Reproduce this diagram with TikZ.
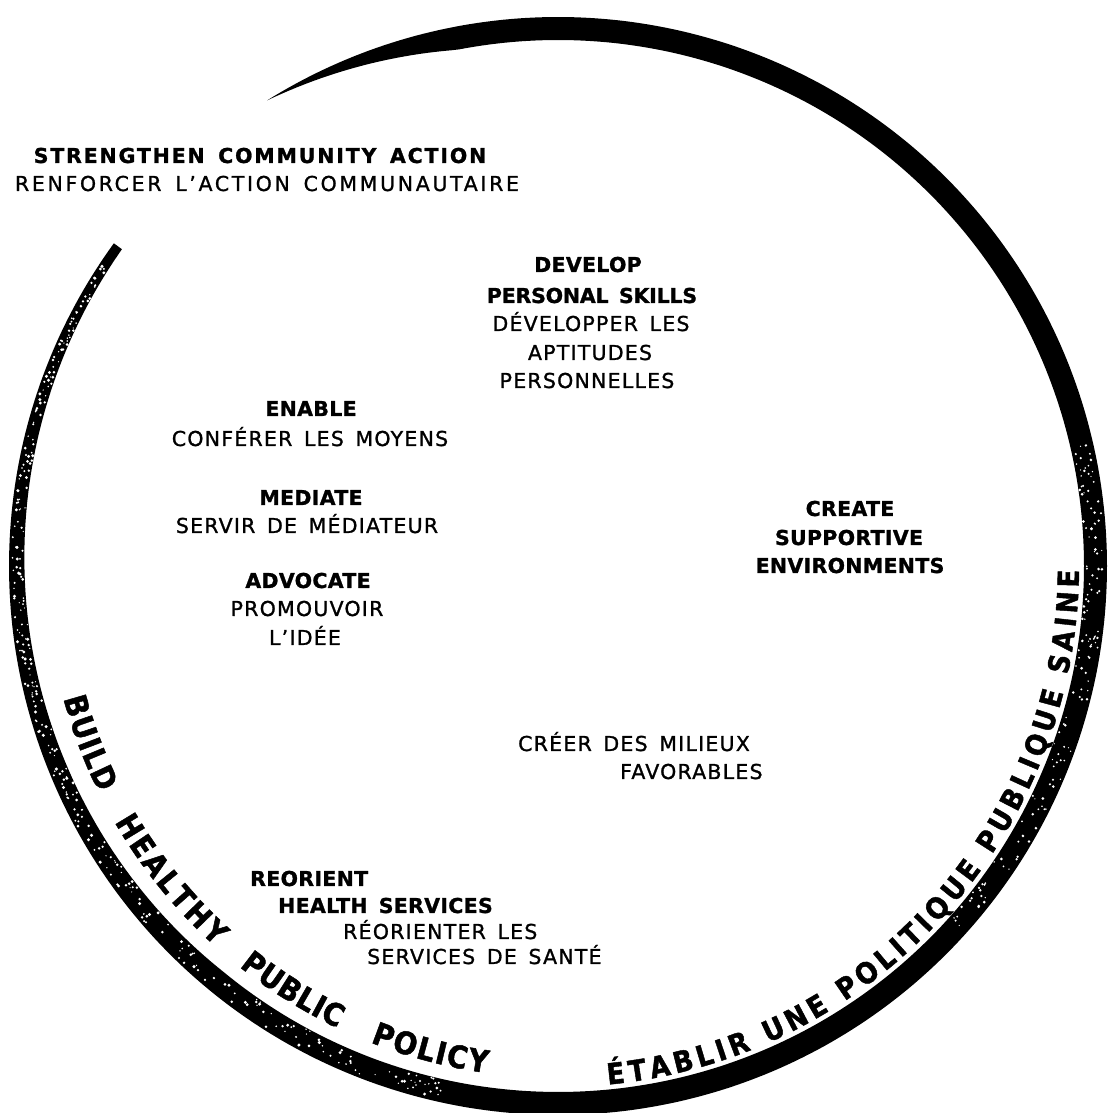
\documentclass[tikz,border=0pt]{standalone}
\usepackage{fontspec}
\setmainfont{DejaVu Sans}[LetterSpace=6, WordSpace=1.5, FakeBold=1.2, BoldFeatures={LetterSpace=1.5, FakeBold=1.2}]
\newfontfamily\curvefont{DejaVu Sans}[FakeStretch=0.9, FakeBold=1.5]
\newfontfamily\wideboldfont{DejaVu Sans}[WordSpace=1.5, BoldFeatures={LetterSpace=9, FakeBold=1.2}]
\newfontfamily\tightboldfont{DejaVu Sans}[WordSpace=1.5, BoldFeatures={LetterSpace=-1, FakeBold=1.2}]
\usetikzlibrary{decorations.text}
\begin{document}
\begin{tikzpicture}[x=1pt,y=1pt,
  declare function={w(\t)=min(23,(482-\t)*1.1,10+(\t-144)*0.15);},
  txtb/.style={inner sep=0pt, font=\fontsize{20.5}{21}\selectfont\bfseries},
  txtr/.style={inner sep=0pt, font=\fontsize{20.5}{21}\selectfont},
  speck/.style={fill=white, draw=none},
  lword/.style={decorate, decoration={text along path, text align={fit to path},
    text={|\curvefont\fontsize{31}{31}\selectfont\bfseries|#1}}},
  rline/.style={decorate, decoration={text along path, text align={fit to path},
    text={|\curvefont\fontsize{29}{29}\selectfont\bfseries|#1}}}]
\useasboundingbox (0,0) rectangle (1111,1113);
% ring
\fill[black] plot[domain=144:482,samples=400] ({558+549*cos(\x)},{547+549*sin(\x)})
  -- plot[domain=482:144,samples=400] ({558+(549-w(\x))*cos(\x)},{547+(549-w(\x))*sin(\x)}) -- cycle;
% worn texture of the brush stroke
\pgfmathsetseed{42}
\foreach \i in {1,...,320}{
  \pgfmathsetmacro\aa{146+112*rnd}
  \pgfmathsetmacro\rr{546-(w(\aa)-4)*rnd}
  \pgfmathsetmacro\ss{0.6+1.1*rnd}
  \fill[speck] ({558+\rr*cos(\aa)},{547+\rr*sin(\aa)}) circle (\ss);
}
\foreach \i in {1,...,140}{
  \pgfmathsetmacro\aa{318+55*rnd}
  \pgfmathsetmacro\rr{546-(w(\aa)-4)*rnd}
  \pgfmathsetmacro\ss{0.6+0.9*rnd}
  \fill[speck] ({558+\rr*cos(\aa)},{547+\rr*sin(\aa)}) circle (\ss);
}
% top-left labels
\node[inner sep=0pt, anchor=base, font=\wideboldfont\fontsize{20.5}{21}\selectfont\bfseries] (sca) at (260,950) {STRENGTHEN COMMUNITY ACTION};
\node[txtr, anchor=base, font=\fontsize{20.5}{21}\selectfont\addfontfeature{LetterSpace=13}] (rac) at (267,922) {RENFORCER L'ACTION COMMUNAUTAIRE};
% develop
\node[txtb, anchor=base] (d1) at (588,841) {DEVELOP};
\node[inner sep=0pt, anchor=base, font=\tightboldfont\fontsize{20.5}{21}\selectfont\bfseries] (d2) at (592,810) {PERSONAL SKILLS};
\node[txtr, anchor=base] (d3) at (591,782) {DÉVELOPPER LES};
\node[txtr, anchor=base] (d4) at (590,753) {APTITUDES};
\node[txtr, anchor=base] (d5) at (587,725) {PERSONNELLES};
% enable etc
\node[txtb, anchor=base] (e1) at (311,697) {ENABLE};
\node[txtr, anchor=base] (e2) at (310,667) {CONFÉRER LES MOYENS};
\node[txtb, anchor=base] (m1) at (311,608) {MEDIATE};
\node[txtr, anchor=base] (m2) at (307,580) {SERVIR DE MÉDIATEUR};
\node[txtb, anchor=base] (a1) at (308,525) {ADVOCATE};
\node[txtr, anchor=base] (a2) at (307,497) {PROMOUVOIR};
\node[txtr, anchor=base] (a3) at (305,468) {L'IDÉE};
% create
\node[txtb, anchor=base] (c1) at (850,597) {CREATE};
\node[txtb, anchor=base] (c2) at (849,568) {SUPPORTIVE};
\node[txtb, anchor=base] (c3) at (850,540) {ENVIRONMENTS};
\node[txtr, anchor=base west] (c4) at (518,362) {CRÉER DES MILIEUX};
\node[txtr, anchor=base west] (c5) at (620,334) {FAVORABLES};
% reorient
\node[txtb, anchor=base west] (r1) at (250,227) {REORIENT};
\node[txtb, anchor=base west] (r2) at (278,200) {HEALTH SERVICES};
\node[txtr, anchor=base west] (r3) at (343,174) {RÉORIENTER LES};
\node[txtr, anchor=base west] (r4) at (367,149) {SERVICES DE SANTÉ};
% curved texts
\path[lword=BUILD]   (558,547) ++(195:512)   arc[start angle=195,   end angle=206.3, radius=512];
\path[lword=HEALTHY] (558,547) ++(210:512)   arc[start angle=210,   end angle=228,   radius=512];
\path[lword=PUBLIC]  (558,547) ++(231.5:512) arc[start angle=231.5, end angle=244.5, radius=512];
\path[lword=POLICY]  (558,547) ++(248.5:512) arc[start angle=248.5, end angle=262,   radius=512];
\path[rline={ÉTABLIR UNE POLITIQUE PUBLIQUE SAINE}]
  (558,547) ++(275.5:521) arc[start angle=275.5, end angle=359.5, radius=521];
\end{tikzpicture}
\end{document}
